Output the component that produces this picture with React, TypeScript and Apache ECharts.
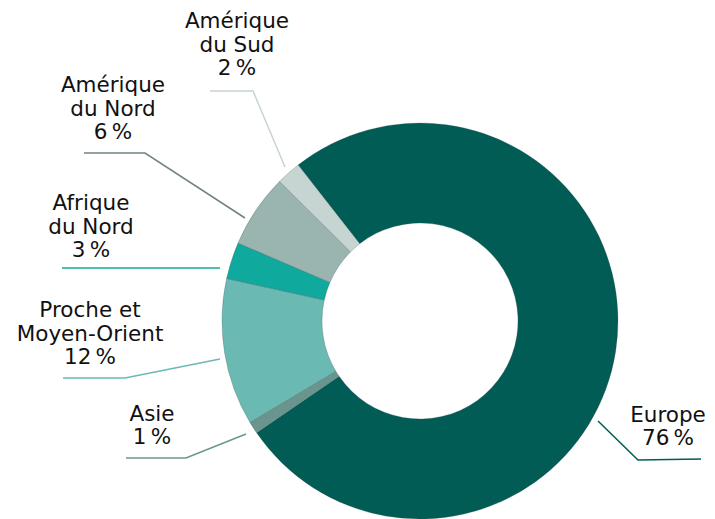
import React, { useEffect, useRef } from "react";
import * as echarts from "echarts";

const categories = [
  "Europe",
  "Asie",
  "Proche et\nMoyen-Orient",
  "Afrique\ndu Nord",
  "Amérique\ndu Nord",
  "Amérique\ndu Sud",
];
const values = [76, 1, 12, 3, 6, 2];
const colors = ["#005c55", "#6a958f", "#6abab3", "#10a99e", "#9ab4b0", "#c6d4d2"];
const lineColors = ["#005c55", "#6a958f", "#6abab3", "#10a99e", "#72837f", "#c6d4d2"];

// label anchor (center, middle) and leader line points
const labelPos: [number, number][] = [
  [668, 426],
  [152, 425],
  [90, 333],
  [91, 226],
  [113, 108],
  [237, 44],
];
const linePoints: [number, number][][] = [
  [[598, 421], [638, 460], [701, 459]],
  [[246, 434], [186, 458], [126, 458]],
  [[220, 359], [125, 378], [63, 378]],
  [[220, 268], [141, 268], [62, 268]],
  [[245, 218], [145, 153], [84, 153]],
  [[285, 167], [253, 91], [210, 91]],
];

export default function App() {
  const ref = useRef<HTMLDivElement>(null);
  useEffect(() => {
    document.body.style.margin = "0";
    const chart = echarts.init(ref.current!, null, { renderer: "svg" });
    chart.setOption({
      animation: false,
      backgroundColor: "#ffffff",
      series: [
        {
          type: "pie",
          center: [420, 321],
          radius: [98, 198],
          startAngle: 128,
          clockwise: true,
          avoidLabelOverlap: false,
          emphasis: { disabled: true },
          itemStyle: { borderColor: "rgba(60,80,78,0.45)", borderWidth: 0.6 },
          label: {
            show: true,
            position: "outside",
            formatter: (p: any) => `${p.name}\n${p.value}\u202f%`,
            fontFamily: "DejaVu Sans",
            fontSize: 21.5,
            lineHeight: 23.5,
            color: "#111111",
            align: "center",
          },
          labelLine: { show: true, lineStyle: { width: 1.5 } },
          labelLayout: (params: any) => {
            const i = params.dataIndex;
            return {
              x: labelPos[i][0],
              y: labelPos[i][1],
              align: "center",
              verticalAlign: "middle",
              labelLinePoints: linePoints[i],
            };
          },
          data: categories.map((name, i) => ({
            name,
            value: values[i],
            itemStyle: { color: colors[i] },
            labelLine: { lineStyle: { color: lineColors[i], width: 1.5 } },
          })),
        },
      ],
    });
    return () => chart.dispose();
  }, []);
  return <div ref={ref} style={{ width: 715, height: 519 }} />;
}
